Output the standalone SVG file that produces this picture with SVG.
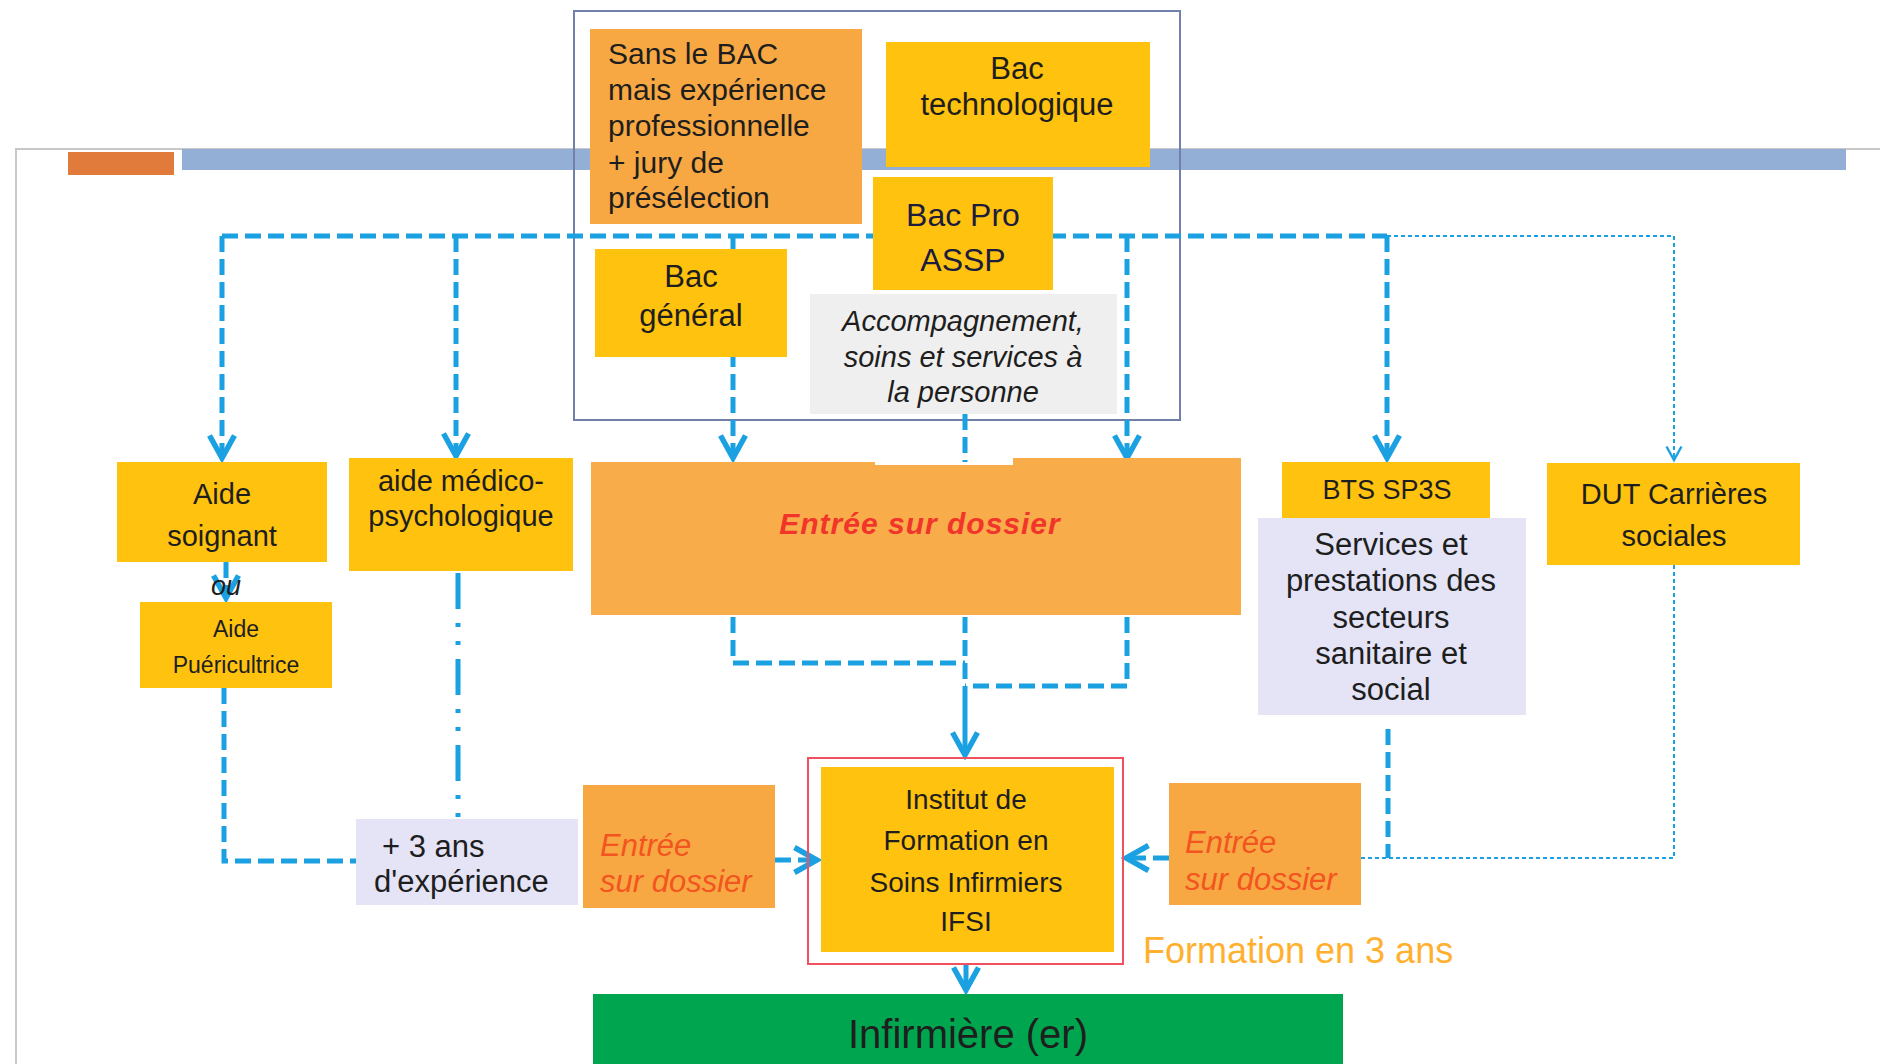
<svg xmlns="http://www.w3.org/2000/svg" width="1880" height="1064" viewBox="0 0 1880 1064">
<style>
text{font-family:"Liberation Sans",Arial,sans-serif;fill:#1e1e1e}
.y{fill:#FFC20E}
.o{fill:#F8A843}
.lav{fill:#E4E4F6}
.c{text-anchor:middle}
.it{font-style:italic}
.ent{fill:#F2551F;font-style:italic;font-size:31px}
.thick{fill:none;stroke:#1BA1E2;stroke-width:5;stroke-dasharray:16 7}
.solid{fill:none;stroke:#1BA1E2;stroke-width:5}
.thin{fill:none;stroke:#1BA1E2;stroke-width:2;stroke-dasharray:4 3}
.dd{fill:none;stroke:#1BA1E2;stroke-width:5;stroke-dasharray:36 14 4 14 4 14}
</style>
<defs>
<marker id="ah" viewBox="0 0 12 12" refX="10" refY="6" markerWidth="6" markerHeight="6" orient="auto" markerUnits="strokeWidth">
<path d="M1,1 L10,6 L1,11" fill="none" stroke="#1BA1E2" stroke-width="2.2"/>
</marker>
<marker id="ahs" viewBox="0 0 12 12" refX="10" refY="6" markerWidth="9" markerHeight="9" orient="auto" markerUnits="strokeWidth">
<path d="M1,1 L10,6 L1,11" fill="none" stroke="#1BA1E2" stroke-width="1.6"/>
</marker>
</defs>
<rect width="1880" height="1064" fill="#ffffff"/>
<!-- page frame -->
<g id="frame">
<path d="M16,1064 V149 H1880" fill="none" stroke="#C8C8C8" stroke-width="2"/>
<rect x="182" y="149" width="1664" height="21" fill="#94AFD6"/>
<rect x="68" y="152" width="106" height="23" fill="#E07B3C"/>
</g>
<!-- outer grouping box -->
<g id="bac-group">
<rect x="574" y="11" width="606" height="409" fill="none" stroke="#7080A8" stroke-width="2"/>
</g>
<!-- connectors -->
<g id="connectors">
<path class="thick" d="M222,236 H1387"/>
<path class="thin" d="M1387,236 H1674"/>
<path class="thick" d="M222,236 V458" marker-end="url(#ah)"/>
<path class="thick" d="M456,236 V456" marker-end="url(#ah)"/>
<path class="thick" d="M733,236 V458" marker-end="url(#ah)"/>
<path class="thick" d="M1127,236 V458" marker-end="url(#ah)"/>
<path class="thick" d="M1387,236 V458" marker-end="url(#ah)"/>
<path class="thin" d="M1674,236 V460" marker-end="url(#ahs)"/>
<path class="thick" d="M965,414 V462"/>
<path class="thick" d="M226,562 V598" stroke-width="3" marker-end="url(#ah)"/>
<path class="thick" d="M224,688 V861 H356"/>
<path class="dd" d="M458,573 V818"/>
<path class="thick" d="M775,860 H817" marker-end="url(#ah)"/>
<path class="thick" d="M733,617 V663 H965"/>
<path class="thick" d="M1127,617 V686 H965"/>
<path class="thick" d="M965,617 V690"/>
<path class="solid" d="M965,690 V755" marker-end="url(#ah)"/>
<path class="solid" d="M966,964 V990" marker-end="url(#ah)"/>
<path class="thick" d="M1388,729 V858"/>
<path class="thin" d="M1674,565 V858 H1361"/>
<path class="thick" d="M1169,858 H1126" marker-end="url(#ah)"/>
</g>
<!-- nodes -->
<g id="sans-bac">
<rect class="o" x="590" y="29" width="272" height="195"/>
<text x="608" y="64" font-size="30">Sans le BAC</text>
<text x="608" y="100" font-size="30">mais expérience</text>
<text x="608" y="136" font-size="30">professionnelle</text>
<text x="608" y="173" font-size="30">+ jury de</text>
<text x="608" y="208" font-size="30">présélection</text>
</g>
<g id="bac-techno">
<rect class="y" x="886" y="42" width="264" height="125"/>
<text class="c" x="1017" y="79" font-size="31">Bac</text>
<text class="c" x="1017" y="115" font-size="31">technologique</text>
</g>
<g id="bac-pro">
<rect class="y" x="873" y="177" width="180" height="113"/>
<text class="c" x="963" y="226" font-size="32" style="fill:#1c1c3c">Bac Pro</text>
<text class="c" x="963" y="271" font-size="32" style="fill:#1c1c3c">ASSP</text>
</g>
<g id="bac-general">
<rect class="y" x="595" y="249" width="192" height="108"/>
<text class="c" x="691" y="287" font-size="31">Bac</text>
<text class="c" x="691" y="326" font-size="31">général</text>
</g>
<g id="assp-desc">
<rect x="810" y="294" width="307" height="120" fill="#EFEFEF"/>
<text class="c it" x="963" y="331" font-size="29">Accompagnement,</text>
<text class="c it" x="963" y="367" font-size="29">soins et services à</text>
<text class="c it" x="963" y="402" font-size="29">la personne</text>
</g>
<g id="aide-soignant">
<rect class="y" x="117" y="462" width="210" height="100"/>
<text class="c" x="222" y="504" font-size="29">Aide</text>
<text class="c" x="222" y="546" font-size="29">soignant</text>
</g>
<g id="ou">
<text class="c it" x="226" y="595" font-size="27">ou</text>
</g>
<g id="aide-puer">
<rect class="y" x="140" y="602" width="192" height="86"/>
<text class="c" x="236" y="637" font-size="23">Aide</text>
<text class="c" x="236" y="673" font-size="23">Puéricultrice</text>
</g>
<g id="amp">
<rect class="y" x="349" y="458" width="224" height="113"/>
<text class="c" x="461" y="491" font-size="29">aide médico-</text>
<text class="c" x="461" y="526" font-size="29">psychologique</text>
</g>
<g id="experience">
<rect class="lav" x="356" y="819" width="222" height="86"/>
<text x="382" y="857" font-size="31">+ 3 ans</text>
<text x="374" y="892" font-size="31">d'expérience</text>
</g>
<g id="entree-left">
<rect class="o" x="583" y="785" width="192" height="123"/>
<text class="ent" x="600" y="856">Entrée</text>
<text class="ent" x="600" y="892">sur dossier</text>
</g>
<g id="entree-main">
<path d="M591,462 H875 V465 H1013 V458 H1241 V615 H591 Z" fill="#F9AC4A"/>
<text class="c" x="920" y="534" font-size="30" font-weight="bold" font-style="italic" letter-spacing="1" style="fill:#F2352B">Entrée sur dossier</text>
</g>
<g id="ifsi">
<rect x="808" y="758" width="315" height="206" fill="none" stroke="#F05060" stroke-width="2"/>
<rect class="y" x="821" y="767" width="293" height="185"/>
<text class="c" x="966" y="809" font-size="28">Institut de</text>
<text class="c" x="966" y="850" font-size="28">Formation en</text>
<text class="c" x="966" y="892" font-size="28">Soins Infirmiers</text>
<text class="c" x="966" y="931" font-size="28">IFSI</text>
</g>
<g id="infirmiere">
<rect x="593" y="994" width="750" height="70" fill="#00A64F"/>
<text class="c" x="968" y="1048" font-size="40">Infirmière (er)</text>
</g>
<g id="bts">
<rect class="y" x="1282" y="462" width="208" height="56"/>
<text class="c" x="1387" y="499" font-size="27">BTS SP3S</text>
</g>
<g id="bts-desc">
<rect class="lav" x="1258" y="518" width="268" height="197"/>
<text class="c" x="1391" y="555" font-size="31">Services et</text>
<text class="c" x="1391" y="591" font-size="31">prestations des</text>
<text class="c" x="1391" y="628" font-size="31">secteurs</text>
<text class="c" x="1391" y="664" font-size="31">sanitaire et</text>
<text class="c" x="1391" y="700" font-size="31">social</text>
</g>
<g id="dut">
<rect class="y" x="1547" y="463" width="253" height="102"/>
<text class="c" x="1674" y="504" font-size="29">DUT Carrières</text>
<text class="c" x="1674" y="546" font-size="29">sociales</text>
</g>
<g id="entree-right">
<rect class="o" x="1169" y="783" width="192" height="122"/>
<text class="ent" x="1185" y="853">Entrée</text>
<text class="ent" x="1185" y="890">sur dossier</text>
</g>
<g id="formation">
<text x="1143" y="963" font-size="36" style="fill:#FFB02E">Formation en 3 ans</text>
</g>
</svg>
